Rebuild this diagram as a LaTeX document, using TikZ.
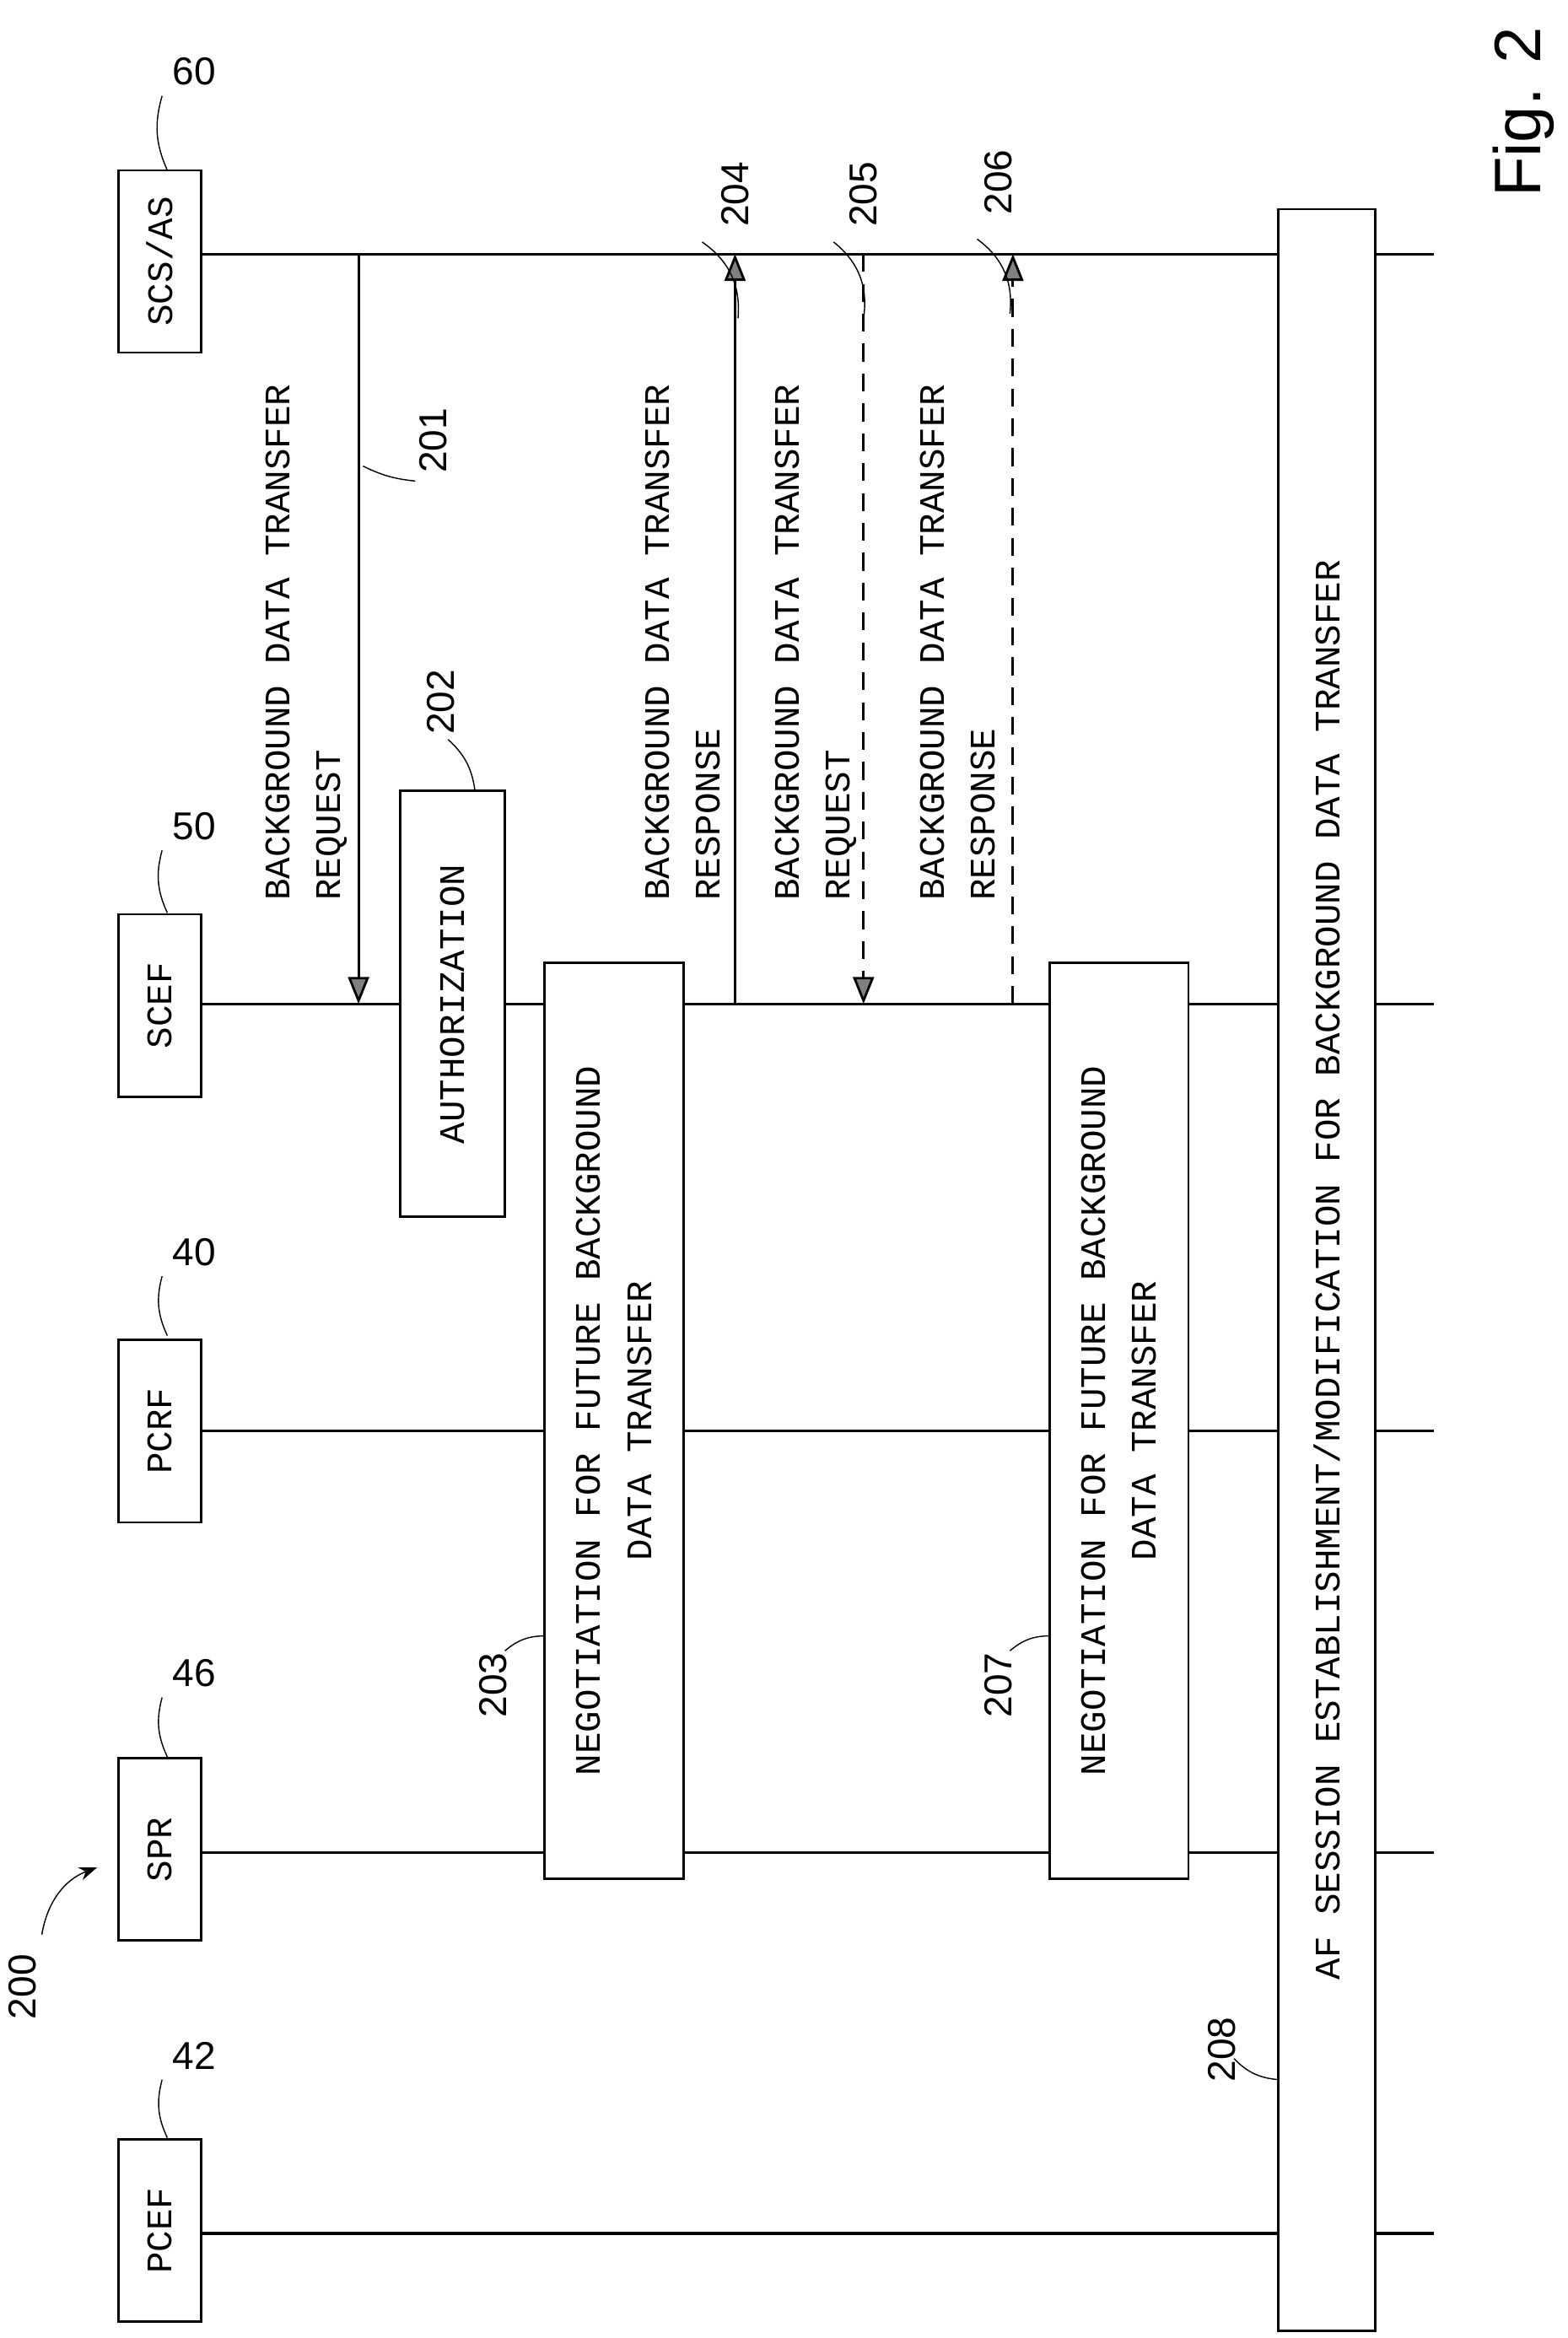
\documentclass[tikz,border=0pt]{standalone}
\usepackage{fontspec}
\setmonofont{Liberation Mono}
\setmainfont{Liberation Sans}
\usetikzlibrary{arrows.meta}
\begin{document}
\begin{tikzpicture}[x=0.5pt,y=-0.5pt,
  txt/.style={font=\ttfamily\fontsize{12}{17}\selectfont},
  party/.style={draw,thick,fill=white,txt,rotate=90,minimum width=61pt,minimum height=27.5pt,inner sep=0pt},
  proc/.style={draw,thick,fill=white,txt,rotate=90,align=center,inner sep=0pt},
  life/.style={thick},
  msg/.style={thick,-{Triangle[length=9pt,width=7pt,fill=gray]}},
  lbl/.style={font=\fontsize{13}{15}\selectfont}]
\useasboundingbox (0,0) rectangle (1049,1565);
% participants
\coordinate (scsend) at (960,170);
\coordinate (scefend) at (960,672);
\coordinate (pcrfend) at (960,958);
\coordinate (sprend) at (960,1240);
\coordinate (pcefend) at (960,1495);
\node[party] (scs) at (107,175) {SCS/AS};
\node[party] (scef) at (107,673) {SCEF};
\node[party] (pcrf) at (107,958) {PCRF};
\node[party] (spr) at (107,1238) {SPR};
\node[party] (pcef) at (107,1493) {PCEF};
\draw[life] (scs.south |- scsend) -- (scsend);
\draw[life] (scef.south |- scefend) -- (scefend);
\draw[life] (pcrf.south |- pcrfend) -- (pcrfend);
\draw[life] (spr.south |- sprend) -- (sprend);
\draw[very thick] (pcef.south |- pcefend) -- (pcefend);
% reference numerals of participants
\node[lbl] (n60) at (130,48) {60};
\draw (n60.south west) to[bend right=20] (112,114);
\node[lbl] (n50) at (130,553) {50};
\draw (n50.south west) to[bend right=20] (112,611);
\node[lbl] (n40) at (130,838) {40};
\draw (n40.south west) to[bend right=20] (112,894);
\node[lbl] (n46) at (130,1120) {46};
\draw (n46.south west) to[bend right=20] (112,1176);
\node[lbl] (n42) at (130,1376) {42};
\draw (n42.south west) to[bend right=20] (112,1431);
\node[lbl,rotate=90] (n200) at (15,1330) {200};
\draw[-{Stealth[length=6pt]}] (28,1295) to[bend left=30] (65,1250);
% 201
\coordinate (m1a) at (240,170);
\coordinate (m1b) at (240,672);
\draw[msg] (m1a) -- (m1b);
\node[txt,rotate=90,align=left] (t201) at (205,430) {BACKGROUND DATA TRANSFER\\REQUEST};
\node[lbl,rotate=90] (n201) at (290,295) {201};
\draw (243,312) to[bend right=10] (278,322);
% 202
\node[proc,minimum width=142.5pt,minimum height=35pt] (auth) at (303,672) {AUTHORIZATION};
\node[lbl,rotate=90] (n202) at (295,470) {202};
\draw (300,495) to[bend left=20] (318,530);
% 203
\node[proc,minimum width=306.5pt,minimum height=46.5pt] (neg1) at (411,951) {NEGOTIATION FOR FUTURE BACKGROUND\\DATA TRANSFER};
\node[lbl,rotate=90] (n203) at (330,1128) {203};
\draw (338,1105) to[bend left=20] (365,1095);
% 204
\coordinate (m2a) at (492,672);
\coordinate (m2b) at (492,170);
\draw[msg] (m2a) -- (m2b);
\node[txt,rotate=90,align=left] (t204) at (457,430) {BACKGROUND DATA TRANSFER\\RESPONSE};
\node[lbl,rotate=90] (n204) at (492,130) {204};
\draw (494,213) to[bend right=30] (470,162);
% 205
\coordinate (m3a) at (578,170);
\coordinate (m3b) at (578,672);
\draw[msg,dash pattern=on 6pt off 4pt] (m3a) -- (m3b);
\node[txt,rotate=90,align=left] (t205) at (546,430) {BACKGROUND DATA TRANSFER\\REQUEST};
\node[lbl,rotate=90] (n205) at (578,130) {205};
\draw (578,213) to[bend right=30] (558,162);
% 206
\coordinate (m4a) at (678,672);
\coordinate (m4b) at (678,170);
\draw[msg,dash pattern=on 6pt off 4pt] (m4a) -- (m4b);
\node[txt,rotate=90,align=left] (t206) at (641,430) {BACKGROUND DATA TRANSFER\\RESPONSE};
\node[lbl,rotate=90] (n206) at (668,122) {206};
\draw (676,210) to[bend right=30] (654,160);
% 207
\node[proc,minimum width=306.5pt,minimum height=46.5pt] (neg2) at (749,951) {NEGOTIATION FOR FUTURE BACKGROUND\\DATA TRANSFER};
\node[lbl,rotate=90] (n207) at (668,1128) {207};
\draw (676,1105) to[bend left=20] (703,1095);
% 208
\node[proc,minimum width=710pt,minimum height=32.5pt] (af) at (888,850) {AF SESSION ESTABLISHMENT/MODIFICATION FOR BACKGROUND DATA TRANSFER};
\node[lbl,rotate=90] (n208) at (818,1372) {208};
\draw (826,1378) to[bend right=20] (855,1392);
% figure number
\node[font=\fontsize{22}{24}\selectfont,rotate=90] (fig) at (1020,75) {Fig. 2};
\end{tikzpicture}
\end{document}
